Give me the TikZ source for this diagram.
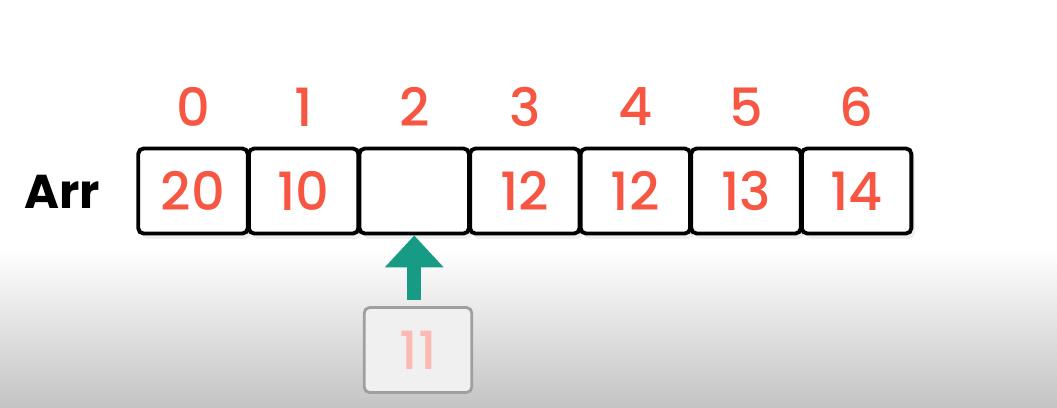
\documentclass[tikz,border=0pt]{standalone}
\usepackage{fontspec}
\setmainfont{Poppins}
\newfontfamily\numfont{Poppins}[UprightFont=* Medium]
\usetikzlibrary{shadows,arrows.meta}
\definecolor{numRed}{RGB}{246,86,66}
\definecolor{arrowTeal}{RGB}{24,155,133}
\definecolor{bgGray}{RGB}{196,196,196}
\begin{document}
\begin{tikzpicture}
[x=0.02cm,y=-0.02cm,
 cellDecorate/.style={shape=rectangle,draw=black,line width=2.2pt,rounded corners=3pt,minimum width=2.19cm,minimum height=1.7cm,inner sep=0pt,fill=white,text=numRed,font=\fontsize{30}{30}\numfont,drop shadow={opacity=0.12,shadow xshift=2pt,shadow yshift=-3pt}},
 indexDecorate/.style={text=numRed,font=\fontsize{30}{30}\numfont},
 newDecorate/.style={shape=rectangle,draw=gray!75,line width=1.6pt,rounded corners=3pt,minimum width=2.15cm,minimum height=1.7cm,fill=gray!12,text=numRed!40,font=\fontsize{30}{30}\numfont},
 lineDecorate/.style={-{Triangle[length=0.64cm,width=1.14cm]},line width=0.28cm,arrowTeal}]

 \fill[white] (0,0) rectangle (1057,250);
 \shade[top color=white,bottom color=bgGray] (0,250) rectangle (1057,407);
 \useasboundingbox (0,0) rectangle (1057,407);

 \node (name) at (62,192) [font=\fontsize{27}{27}\selectfont\bfseries] {Arr};

 \foreach \v [count=\i from 0] in {20,10,{},12,12,13,14}
 {
          \node (idx\i) at (193+110.6*\i,107) [indexDecorate] {\i};
          \node (cell\i) at (193+110.6*\i,191) [cellDecorate] {\v};
 }

 \node (newval) at (418,350) [newDecorate] {11};
 \draw[lineDecorate] (cell2.south |- newval.north) ++(0,0.12cm) -- (cell2.south);
\end{tikzpicture}
\end{document}
